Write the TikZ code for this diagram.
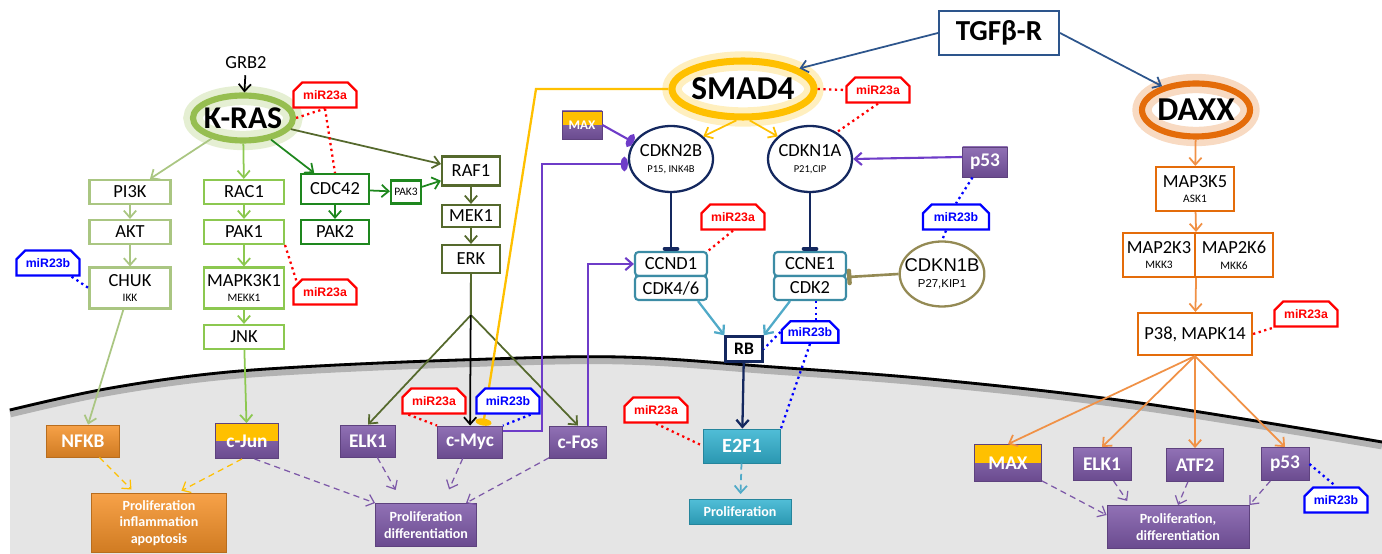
\documentclass[tikz,border=0pt]{standalone}
\usepackage{fontspec}
\setmainfont{Carlito}
\newfontfamily\arialfont{Liberation Sans}
\usepackage{tikz}
\usetikzlibrary{shapes.geometric}
\usetikzlibrary{shapes.misc}
\usetikzlibrary{arrows.meta}
\usetikzlibrary{positioning}
\usepackage{xcolor}
\definecolor{paleg}{RGB}{170,198,130}
\definecolor{lightg}{RGB}{140,200,80}
\definecolor{darkg}{RGB}{30,135,30}
\definecolor{oliveg}{RGB}{85,105,45}
\definecolor{krasg}{RGB}{150,190,80}
\definecolor{gold}{RGB}{255,192,0}
\definecolor{daxxo}{RGB}{228,108,10}
\definecolor{arro}{RGB}{240,145,70}
\definecolor{navyb}{RGB}{20,40,95}
\definecolor{tealB}{RGB}{60,140,165}
\definecolor{tealA}{RGB}{80,170,200}
\definecolor{tealF}{RGB}{50,178,208}
\definecolor{purpF}{RGB}{125,88,168}
\definecolor{purpL}{RGB}{110,60,200}
\definecolor{khaki}{RGB}{148,138,84}
\definecolor{tgfb}{RGB}{45,85,140}
\definecolor{nucg}{RGB}{229,229,229}
\definecolor{orangeF}{RGB}{245,145,40}
\definecolor{mred}{RGB}{255,0,0}
\definecolor{mblue}{RGB}{0,0,255}

\newcommand{\gfont}{\fontsize{10.5}{12}\selectfont}
\newcommand{\subn}[1]{\\[-3pt]{\fontsize{6.5}{7}\selectfont #1}}

\begin{document}
\begin{tikzpicture}[x=0.2mm,y=-0.2mm,
	gene/.style={draw=#1, rectangle, fill=white, line width=1.2pt, inner sep=0.5pt, align=center, font=\gfont},
	ring/.style={ellipse, draw=#1, line width=3.5pt, preaction={draw=#1!25, line width=11pt}, inner xsep=-3mm, inner ysep=-2mm, font=\bfseries\fontsize{18}{20}\selectfont},
	oval/.style={ellipse, draw=#1, line width=1.3pt, fill=white, inner xsep=-1.5mm, inner ysep=-1.5mm, align=center, font=\gfont},
	colbox/.style={rectangle, draw=#1!75!black, line width=0.5pt, top color=#1!85!white, bottom color=#1!85!black, text=white, align=center, inner sep=0.5pt, font=\bfseries\fontsize{11}{12}\selectfont},
	twotone/.style={colbox=purpF, path picture={\fill[gold] (path picture bounding box.north west) rectangle (path picture bounding box.east);}},
	outbox/.style={colbox=#1, font=\bfseries\fontsize{8}{9.5}\selectfont},
	mir/.style={chamfered rectangle, chamfered rectangle corners={north west,north east}, chamfered rectangle sep=2.5pt, fill=white, line width=1.3pt, inner sep=1pt, minimum width=12.6mm, minimum height=5mm, font=\arialfont\bfseries\fontsize{7}{8}\selectfont},
	mira/.style={mir, draw=mred, text=mred},
	mirb/.style={mir, draw=mblue, text=mblue},
	act/.style={-{Straight Barb[length=4pt,width=7pt]}, line width=1pt},
	dact/.style={act, line width=0.7pt, dash pattern=on 3.5pt off 2.5pt},
	inh/.style={-{Bar[width=7pt,line width=2.5pt,round]}, line width=1.5pt},
	blob/.style={-{Ellipse[length=4pt,width=8pt]}, line width=1.2pt},
	mlink/.style={dotted, line width=1.3pt}]
	\useasboundingbox (0,0) rectangle (1382,554);
	
	% nucleus
	\fill[nucg] (10,554) -- plot[smooth, tension=0.6] coordinates {(10,410) (100,390) (200,375) (300,367) (460,360) (620,357) (773,367) (940,380) (1140,403) (1382,442)} -- (1382,554) -- cycle;
	\draw[gray!60, line width=5pt, yshift=-0.6mm] plot[smooth, tension=0.6] coordinates {(10,410) (100,390) (200,375) (300,367) (460,360) (620,357) (773,367) (940,380) (1140,403) (1382,442)};
	\draw[black, line width=1.6pt] plot[smooth, tension=0.6] coordinates {(10,410) (100,390) (200,375) (300,367) (460,360) (620,357) (773,367) (940,380) (1140,403) (1382,442)};
	
	% K-RAS branch
	\node[font=\gfont] (grb2) at (246,63) {GRB2};
	\node[ring=krasg, minimum width=20mm, minimum height=9mm] (kras) at (243,118) {K-RAS};
	\node[gene=paleg, minimum width=16.2mm, minimum height=4.8mm] (pi3k) at (130,192) {PI3K};
	\node[gene=paleg, minimum width=16.2mm, minimum height=4.8mm] (akt) at (130,232) {AKT};
	\node[gene=paleg, minimum width=16.2mm, minimum height=8.2mm] (chuk) at (130,288) {CHUK\subn{IKK}};
	\node[gene=lightg, minimum width=16mm, minimum height=4.8mm] (rac1) at (244,192) {RAC1};
	\node[gene=lightg, minimum width=16mm, minimum height=4.8mm] (pak1) at (244,232) {PAK1};
	\node[gene=lightg, minimum width=16mm, minimum height=8.2mm] (mekk1) at (244,288) {MAPK3K1\subn{MEKK1}};
	\node[gene=lightg, minimum width=16mm, minimum height=4.8mm] (jnk) at (244,337) {JNK};
	\node[gene=darkg, minimum width=13.6mm, minimum height=6mm] (cdc42) at (335,189) {CDC42};
	\node[gene=darkg, minimum width=13.6mm, minimum height=4.8mm] (pak2) at (335,232) {PAK2};
	\node[gene=darkg, minimum width=6mm, minimum height=4.6mm, font=\fontsize{6.5}{7}\selectfont] (pak3) at (406,192) {PAK3};
	\node[gene=oliveg, minimum width=11.6mm, minimum height=5.8mm] (raf1) at (471,171) {RAF1};
	\node[gene=oliveg, minimum width=11.6mm, minimum height=4.4mm] (mek1) at (471,216) {MEK1};
	\node[gene=oliveg, minimum width=11.6mm, minimum height=5.6mm] (erk) at (471,259) {ERK};
	\coordinate (fork) at (471,315);
	
	\node[colbox=orangeF, minimum width=14.6mm, minimum height=6.4mm] (nfkb) at (83,441) {NFKB};
	\node[twotone, minimum width=12.6mm, minimum height=7mm] (cjun) at (247,441) {c-Jun};
	\node[colbox=purpF, minimum width=11mm, minimum height=6.4mm] (elk1a) at (368,441) {ELK1};
	\node[colbox=purpF, minimum width=13mm, minimum height=6.4mm] (cmyc) at (470,442) {c-Myc};
	\node[colbox=purpF, minimum width=11.4mm, minimum height=6.4mm] (cfos) at (578,442) {c-Fos};
	\node[outbox=orangeF, minimum width=27mm, minimum height=11.8mm] (pia) at (159,523) {Proliferation\\inflammation\\apoptosis};
	\node[outbox=purpF, minimum width=20.2mm, minimum height=8.6mm] (pdl) at (426,525) {Proliferation\\differentiation};
	
	\node[mirb] (mirb1) at (48,263) {miR23b};
	\node[mira] (mira1) at (325,95) {miR23a};
	\node[mira] (mira2) at (325,292) {miR23a};
	\node[mira] (mira7) at (434,401) {miR23a};
	
	\path[act]
	(grb2) edge[black] (kras)
	(kras) edge[draw=paleg] (pi3k)
	(pi3k) edge[draw=paleg] (akt)
	(akt) edge[draw=paleg] (chuk)
	(chuk) edge[draw=paleg] (nfkb)
	(kras) edge[draw=lightg] (rac1)
	(rac1) edge[draw=lightg] (pak1)
	(pak1) edge[draw=lightg] (mekk1)
	(mekk1) edge[draw=lightg] (jnk)
	(jnk) edge[draw=lightg] (cjun)
	(kras) edge[draw=darkg] (cdc42)
	(cdc42) edge[draw=darkg] (pak2)
	(cdc42) edge[draw=darkg] (pak3)
	(pak3) edge[draw=darkg] (raf1)
	(kras) edge[draw=oliveg] (raf1)
	(raf1) edge[draw=oliveg] (mek1)
	(mek1) edge[draw=oliveg] (erk)
	(fork) edge[draw=oliveg] (elk1a.north)
	(fork) edge[draw=oliveg] (cfos.north)
	(erk) edge[black] (cmyc);
	\draw[oliveg, line width=1pt] (erk.south) -- (fork);
	
	\path[dact]
	(nfkb) edge[draw=gold, shorten >=1mm] ([xshift=-4.8mm]pia.north)
	([xshift=-1mm]cjun.south) edge[draw=gold, shorten >=1mm] ([xshift=3.6mm]pia.north)
	([xshift=1.5mm]cjun.south) edge[draw=purpF] (pdl.north west)
	(elk1a) edge[draw=purpF, shorten >=3mm] ([xshift=-4.6mm]pdl.north)
	(cmyc) edge[draw=purpF, shorten >=3mm] ([xshift=3.4mm]pdl.north)
	(cfos) edge[draw=purpF] ([xshift=8mm]pdl.north);
	
	\path[mlink]
	(kras.east) edge[mred] (mira1.south)
	(mira1.south) edge[mred] (cdc42.north)
	(pak1.south east) edge[mred] (mira2.north west)
	(mirb1.-30) edge[mblue] (chuk.west)
	([xshift=1.4mm]mira7.south west) edge[mred] (cmyc.north west);
	
	% SMAD4 branch
	\node[ring=gold, line width=4pt, minimum width=28.4mm, minimum height=11.2mm, font=\bfseries\fontsize{19}{20}\selectfont] (smad4) at (743,89) {SMAD4};
	\node[twotone, minimum width=8mm, minimum height=5.6mm, font=\bfseries\fontsize{7.5}{8}\selectfont] (maxa) at (582,125) {MAX};
	\node[oval=navyb, minimum width=16.8mm, minimum height=13.2mm] (cdkn2b) at (671,159) {CDKN2B\\[-3pt]{\fontsize{6}{7}\selectfont P15, INK4B}};
	\node[oval=navyb, minimum width=16.8mm, minimum height=13.2mm] (cdkn1a) at (810,159) {CDKN1A\\[-3pt]{\fontsize{6}{7}\selectfont P21,CIP}};
	\node[gene=tealB, rounded corners=2pt, minimum width=14.4mm, minimum height=4.8mm] (ccnd1) at (671,264) {CCND1};
	\node[gene=tealB, rounded corners=2pt, minimum width=14.4mm, minimum height=4.8mm] (cdk46) at (671,288) {CDK4/6};
	\node[gene=tealB, rounded corners=2pt, minimum width=14.4mm, minimum height=4.8mm] (ccne1) at (810,264) {CCNE1};
	\node[gene=tealB, rounded corners=2pt, minimum width=14.4mm, minimum height=4.8mm] (cdk2) at (810,288) {CDK2};
	\node[gene=navyb, line width=1.3pt, minimum width=7.4mm, minimum height=5mm, font=\bfseries\fontsize{10}{11}\selectfont] (rb) at (744,349) {RB};
	\node[colbox=tealF, minimum width=15.4mm, minimum height=6.8mm, font=\bfseries\fontsize{11.5}{12}\selectfont] (e2f1) at (742,446) {E2F1};
	\node[outbox=tealF, minimum width=20.4mm, minimum height=5mm] (prolt) at (740,512) {Proliferation};
	\node[colbox=purpF, minimum width=9mm, minimum height=6mm] (p53a) at (985,162) {p53};
	\node[oval=khaki, minimum width=16.6mm, minimum height=13mm, font=\arialfont\fontsize{10.5}{11}\selectfont] (cdkn1b) at (942,274) {CDKN1B\\[-2pt]{\fontsize{6.5}{7}\selectfont P27,KIP1}};
	\node[mira] (mira3) at (878,90) {miR23a};
	\node[mira] (mira4) at (733,217) {miR23a};
	\node[mirb, minimum width=13.2mm] (mirb2) at (956,217) {miR23b};
	\node[mirb, minimum width=11mm, minimum height=4.2mm] (mirb3) at (810,332) {miR23b};
	\node[mira] (mira5) at (656,410) {miR23a};
	
	\coordinate (ybend) at (536,89);
	\coordinate (pbend) at (542,164);
	\draw[gold, blob, line width=1.3pt, -{Ellipse[length=4pt,width=9pt]}] (smad4.west) -- (ybend) -- ([xshift=2.6mm]cmyc.north);
	\node[mirb] (mirb5) at (508,401) {miR23b};
	\draw[mlink, mblue] ([xshift=-2mm]mirb5.south east) -- (cmyc.north east);
	\draw[purpL, blob] ([yshift=2.2mm]cmyc.east) -| (pbend) -- (cdkn2b.west |- pbend);
	\draw[purpL, act, line width=1.2pt] ([xshift=2mm]cfos.north) |- (ccnd1.west);
	\draw[purpL, blob] (maxa.east) -- (cdkn2b.156);
	\draw[purpL, act, line width=1.2pt] ([yshift=1mm]p53a.west) -- (cdkn1a.east);
	
	\path[act]
	(smad4.258) edge[draw=gold] (cdkn2b.35)
	(smad4.282) edge[draw=gold] (cdkn1a.145)
	([xshift=5.4mm]cdk46.south) edge[draw=tealA, line width=1.3pt] (rb.north west)
	([xshift=-4mm]cdk2.south) edge[draw=tealA, line width=1.3pt] (rb.north east)
	(rb) edge[draw=navyb, line width=1.3pt] (e2f1)
	(e2f1) edge[draw=tealA, dash pattern=on 3.5pt off 2.5pt, shorten >=1mm] (prolt);
	\path[inh]
	(cdkn2b) edge[navyb] (ccnd1)
	(cdkn1a) edge[navyb] (ccne1)
	(cdkn1b.west) edge[khaki] (ccne1.south east);
	
	\path[mlink]
	(smad4.east) edge[mred] (mira3.west)
	(mira3.south) edge[mred] (cdkn1a.45)
	(mira4.south) edge[mred] (ccnd1.north east)
	([xshift=-2.5mm]p53a.south) edge[mblue] (mirb2.north)
	([xshift=-2mm]mirb2.south) edge[mblue] (cdkn1b.north)
	([xshift=1.2mm]cdk2.south) edge[mblue] ([xshift=1.2mm]mirb3.north)
	(mirb3.west) edge[mblue] (rb.east)
	(mirb3.south) edge[mblue] (e2f1.north east)
	(mira5.south) edge[mred] (e2f1.west);
	
	% DAXX branch
	\node[gene=tgfb, minimum width=24mm, minimum height=8.8mm, font=\bfseries\fontsize{16.5}{18}\selectfont] (tgfbr) at (999,33) {TGFβ-R};
	\node[ring=daxxo, minimum width=21.6mm, minimum height=10.6mm, font=\bfseries\fontsize{19}{20}\selectfont] (daxx) at (1196,110) {DAXX};
	\node[gene=daxxo, minimum width=15.6mm, minimum height=8.8mm] (map3k5) at (1195,189) {MAP3K5\subn{ASK1}};
	\node[gene=daxxo, minimum width=14.4mm, minimum height=8.8mm, inner sep=0pt] (map2k3) at (1159,255) {MAP2K3\subn{MKK3}};
	\node[gene=daxxo, minimum width=15.6mm, minimum height=8.8mm, inner sep=0pt] (map2k6) at (1234,255) {MAP2K6\subn{MKK6}};
	\node[gene=daxxo, minimum width=22.8mm, minimum height=8.4mm] (p38) at (1195,334) {P38, MAPK14};
	\node[mira] (mira6) at (1306,314) {miR23a};
	\node[twotone, minimum width=13.4mm, minimum height=7.4mm] (maxb) at (1008,463) {MAX};
	\node[colbox=purpF, minimum width=11.6mm, minimum height=6.6mm] (elk1b) at (1102,464) {ELK1};
	\node[colbox=purpF, minimum width=11.4mm, minimum height=6.6mm] (atf2) at (1195,465) {ATF2};
	\node[colbox=purpF, minimum width=9.6mm, minimum height=6.6mm] (p53b) at (1285,464) {p53};
	\node[mirb] (mirb4) at (1336,500) {miR23b};
	\node[outbox=purpF, minimum width=28.4mm, minimum height=8.6mm] (pdr) at (1178,527) {Proliferation,\\differentiation};
	
	\path[act]
	(tgfbr.west) edge[draw=tgfb] (smad4.20)
	(tgfbr.east) edge[draw=tgfb] (daxx.145)
	(daxx) edge[draw=arro] (map3k5)
	(map3k5) edge[draw=arro] (map2k3.north east)
	(map2k3.south east) edge[draw=arro] (p38)
	(p38.south) edge[draw=arro] (maxb.north)
	(p38.south) edge[draw=arro] (elk1b.north)
	(p38.south) edge[draw=arro] (atf2.north)
	(p38.south) edge[draw=arro] (p53b.north);
	\path[dact]
	(maxb) edge[draw=purpF] ([yshift=2.4mm]pdr.west)
	(elk1b) edge[draw=purpF, shorten >=1mm] ([xshift=-9.6mm]pdr.north)
	(atf2) edge[draw=purpF] (pdr.north)
	(p53b) edge[draw=purpF] (pdr.north east);
	\path[mlink]
	(p38.east) edge[mred] (mira6.south west)
	(p53b.east) edge[mblue] (mirb4.north);
\end{tikzpicture}
\end{document}
